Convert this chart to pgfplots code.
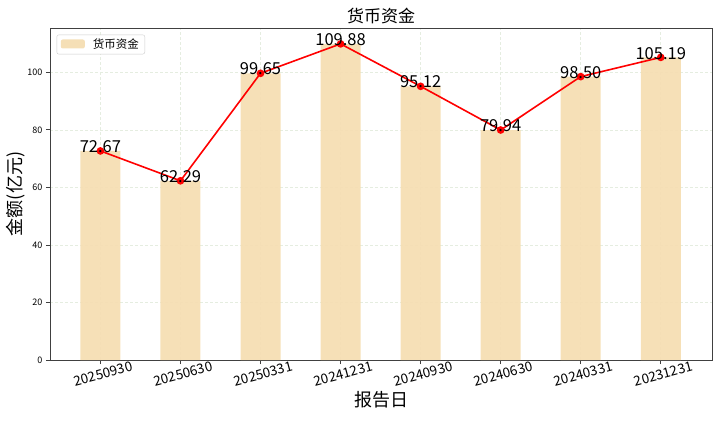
\documentclass[border=0pt]{standalone}
\usepackage{pgfplots}
\pgfplotsset{compat=1.18}
\usepackage{fontspec}
\setmainfont{Noto Sans CJK SC}
\definecolor{wheat}{HTML}{F5DEB3}
\definecolor{gridc}{rgb}{0.90,0.93,0.88}
\begin{document}
\begin{tikzpicture}[x=1pt,y=1pt]
\begin{axis}[
  at={(0,0)}, anchor=south west,
  scale only axis, width=662pt, height=332pt,
  xmin=-0.63, xmax=7.64, ymin=0, ymax=115.4,
  xtick={0,...,7},
  xticklabels={20250930,20250630,20250331,20241231,20240930,20240630,20240331,20231231},
  x tick label style={rotate=15, anchor=north, font=\fontsize{13.5}{13.5}\selectfont, yshift=-2pt},
  ytick={0,20,40,60,80,100},
  y tick label style={font=\fontsize{9}{9}\selectfont},
  /pgf/number format/assume math mode=true,
  grid=major,
  major grid style={gridc, dash pattern=on 3pt off 2pt, line width=0.6pt},
  axis line style={black!75, line width=0.8pt},
  tick style={black!75, line width=0.8pt},
  tick align=outside, major tick length=4pt,
  xtick pos=bottom, ytick pos=left,
  title={货币资金}, title style={font=\fontsize{17}{17}\selectfont, yshift=-5pt},
  xlabel={报告日}, xlabel style={font=\fontsize{18}{18}\selectfont, yshift=3pt},
  ylabel={金额(亿元)}, ylabel style={font=\fontsize{18}{18}\selectfont, yshift=-4pt},
  legend style={at={(0.01,0.98)}, anchor=north west, font=\fontsize{11.5}{11.5}\selectfont, draw=black!20, rounded corners=2pt, inner xsep=4pt, inner ysep=2pt},
  legend cell align=left,
]
\addplot[ybar, bar width=40pt, fill=wheat, draw=none, fill opacity=0.95, bar shift=0pt,
  legend image code/.code={\fill[wheat] (0pt,-4pt) rectangle (24pt,5pt);}] coordinates {
(0,72.67) (1,62.29) (2,99.65) (3,109.88) (4,95.12) (5,79.94) (6,98.50) (7,105.19)};
\addlegendentry{\hspace{6pt}货币资金}
\addplot[red, line width=1.6pt, mark=*, mark size=3pt, mark options={fill=red}, forget plot,
  nodes near coords, point meta=explicit symbolic,
  every node near coord/.append style={font=\fontsize{16.5}{16.5}\selectfont, black, anchor=south, yshift=-6pt}]
  coordinates {
(0,72.67) [72.67] (1,62.29) [62.29] (2,99.65) [99.65] (3,109.88) [109.88] (4,95.12) [95.12] (5,79.94) [79.94] (6,98.50) [98.50] (7,105.19) [105.19]};
\end{axis}
\useasboundingbox (-50pt,-68pt) rectangle (669pt,360pt);
\end{tikzpicture}
\end{document}
